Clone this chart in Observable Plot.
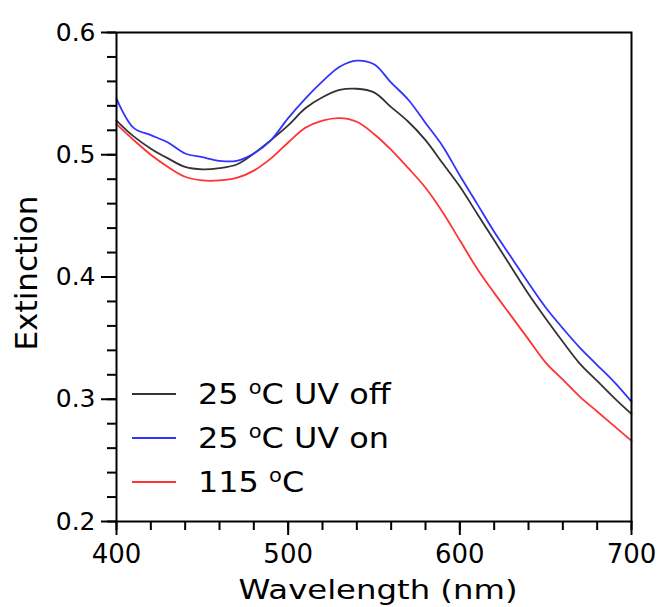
<!DOCTYPE html>
<html>
<head>
<meta charset="utf-8">
<script src="https://cdn.jsdelivr.net/npm/d3@7"></script>
<script src="https://cdn.jsdelivr.net/npm/@observablehq/plot@0.6"></script>
<style>
  html, body { margin: 0; padding: 0; background: white; }
  #wrap { position: relative; width: 658px; height: 607px; font-family: "DejaVu Sans", sans-serif; }
  #legend { position: absolute; left: 132px; top: 372px; }
  .item { display: flex; align-items: center; height: 44px; font-size: 29px; color: #000; white-space: nowrap; }
  .item svg { width: 44px; height: 4px; margin-right: 22px; flex: none; }
  .item span { display: inline-block; transform: scaleX(1.1); transform-origin: left center; }
  .item sup { font-size: 0.66em; vertical-align: 0.5em; line-height: 0; }
</style>
</head>
<body>
<div id="wrap"><div id="legend"></div></div>
<script>
const wavelengths = [400,410,420,430,440,450,460,470,480,490,500,510,520,530,540,550,560,570,580,590,600,610,620,630,640,650,660,670,680,690,700];
const uvOff = [0.528,0.515,0.505,0.497,0.490,0.488,0.489,0.492,0.501,0.512,0.524,0.538,0.547,0.553,0.554,0.551,0.539,0.527,0.512,0.493,0.474,0.452,0.430,0.408,0.386,0.366,0.347,0.329,0.315,0.301,0.288];
const uvOn  = [0.546,0.522,0.516,0.510,0.501,0.498,0.495,0.495,0.501,0.512,0.530,0.546,0.560,0.572,0.577,0.574,0.559,0.545,0.526,0.507,0.483,0.460,0.437,0.416,0.395,0.375,0.358,0.342,0.328,0.314,0.298];
const hot   = [0.525,0.512,0.500,0.490,0.482,0.479,0.479,0.481,0.487,0.497,0.510,0.522,0.528,0.530,0.527,0.517,0.504,0.489,0.473,0.453,0.430,0.407,0.387,0.368,0.349,0.330,0.316,0.302,0.290,0.278,0.266];
const seriesNames = ["25 °C UV off", "25 °C UV on", "115 °C"];
const seriesColors = ["#333333", "#3333ff", "#ff3333"];
const yMajor = [0.2, 0.3, 0.4, 0.5, 0.6];
const yMinor = d3.range(0.2, 0.6001, 0.02).map(v => +v.toFixed(2));
const xMajor = [400, 500, 600, 700];
const xMinor = d3.range(400, 701, 20);
const xLabel = "Wavelength (nm)";
const yLabel = "Extinction";

const data = [];
[uvOff, uvOn, hot].forEach((arr, i) => arr.forEach((v, j) => data.push({wl: wavelengths[j], v, series: seriesNames[i]})));

const chart = Plot.plot({
  width: 658, height: 607,
  marginLeft: 116, marginRight: 27, marginTop: 32, marginBottom: 86,
  style: {fontFamily: "DejaVu Sans", fontSize: "25px", color: "#000", background: "white", overflow: "visible"},
  x: {domain: [400, 700]},
  y: {domain: [0.2, 0.6]},
  color: {domain: seriesNames, range: seriesColors},
  marks: [
    Plot.axisY(yMinor, {tickSize: 9, strokeWidth: 2, tickFormat: () => "", label: null}),
    Plot.axisY(yMajor, {tickSize: 15, strokeWidth: 2, tickPadding: 6, tickFormat: d3.format(".1f"), label: null, fontSize: 25}),
    Plot.axisX(xMinor, {tickSize: 9, strokeWidth: 2, tickFormat: () => "", label: null}),
    Plot.axisX(xMajor, {tickSize: 14, strokeWidth: 2, tickPadding: 9, tickFormat: d3.format("d"), label: null, fontSize: 26}),
    Plot.line(data, {x: "wl", y: "v", stroke: "series", curve: "catmull-rom", strokeWidth: 1.8}),
    Plot.frame({stroke: "black", strokeWidth: 2}),
    Plot.text([xLabel], {frameAnchor: "bottom", textAnchor: "middle", lineAnchor: "middle", dy: 69, dx: 4, fontSize: 27, fill: "black"}),
    Plot.text([yLabel], {frameAnchor: "left", textAnchor: "middle", lineAnchor: "middle", rotate: -90, dx: -89, dy: -4, fontSize: 30, fill: "black"})
  ]
});
const wrap = document.getElementById("wrap");
wrap.insertBefore(chart, wrap.firstChild);

// stretch axis titles to the reference's wider lettering
chart.querySelectorAll("text").forEach(t => {
  if (t.textContent === xLabel) { t.setAttribute("textLength", 279); t.setAttribute("lengthAdjust", "spacingAndGlyphs"); }
  if (t.textContent === yLabel) { t.setAttribute("textLength", 155); t.setAttribute("lengthAdjust", "spacingAndGlyphs"); }
});

const legend = document.getElementById("legend");
seriesNames.forEach((name, i) => {
  const parts = name.split("°");
  const label = parts.length > 1 ? `${parts[0]}<sup>o</sup>${parts[1]}` : name;
  const div = document.createElement("div");
  div.className = "item";
  div.innerHTML = `<svg viewBox="0 0 44 4"><line x1="0" y1="2" x2="44" y2="2" stroke="${seriesColors[i]}" stroke-width="2"/></svg><span>${label}</span>`;
  legend.appendChild(div);
});
</script>
</body>
</html>
